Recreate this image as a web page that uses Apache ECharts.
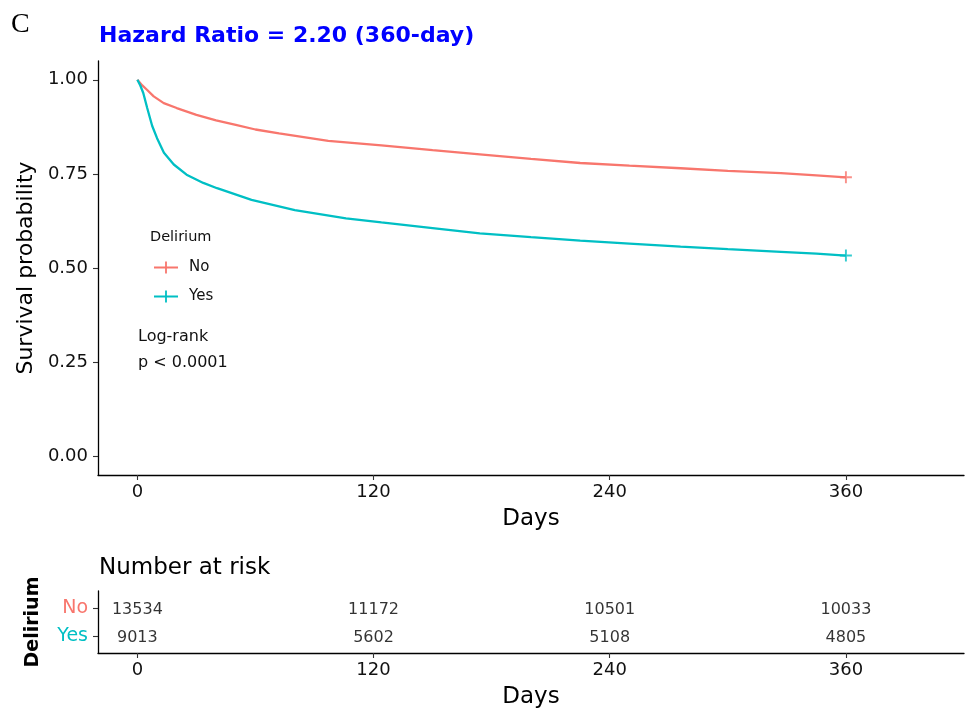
<!DOCTYPE html>
<html>
<head>
<meta charset="utf-8">
<script src="https://cdn.jsdelivr.net/npm/echarts@6/dist/echarts.min.js"></script>
<style>
html,body{margin:0;padding:0;background:#fff;}
#chart{width:967px;height:716px;}
</style>
</head>
<body>
<div id="chart"></div>
<script>
// ---- data ----
const groups = ['No', 'Yes'];
const groupColors = ['#F8766D', '#00BFC4'];

const timeNo = [0, 2.5, 5, 8.3, 13.4, 20, 30, 40, 50, 60, 72, 97, 124, 150, 174, 200, 225, 250, 276, 300, 327, 345, 360];
const survNo = [1.000, 0.985, 0.973, 0.956, 0.938, 0.925, 0.907, 0.892, 0.880, 0.868, 0.858, 0.838, 0.826, 0.813, 0.802, 0.790, 0.779, 0.772, 0.765, 0.758, 0.752, 0.746, 0.741];

const timeYes = [0, 1.5, 3, 5, 7.5, 10, 13.5, 18.5, 25, 33.5, 40.5, 58, 80, 106, 124, 150, 174, 200, 225, 250, 276, 300, 327, 345, 360];
const survYes = [1.000, 0.985, 0.965, 0.925, 0.878, 0.845, 0.806, 0.775, 0.748, 0.726, 0.712, 0.681, 0.654, 0.632, 0.621, 0.606, 0.592, 0.582, 0.573, 0.565, 0.557, 0.550, 0.543, 0.538, 0.533];

const xTicks = [0, 120, 240, 360];
const yTicks = [0, 0.25, 0.5, 0.75, 1];

const riskTimes = [0, 120, 240, 360];
const riskNo = [13534, 11172, 10501, 10033];
const riskYes = [9013, 5602, 5108, 4805];

const titleText = 'Hazard Ratio = 2.20 (360-day)';
const pText = ['Log-rank', 'p < 0.0001'];

// ---- chart ----
const FONT = '"DejaVu Sans", sans-serif';
const TXT = '#111';
const chart = echarts.init(document.getElementById('chart'), null, {renderer: 'canvas'});

const zip = (a, b) => a.map((v, i) => [v, b[i]]);
const survTimes = [timeNo, timeYes];
const survVals = [survNo, survYes];
const riskVals = [riskNo, riskYes];

const plusPath = 'path://M4.2,0h1.6v10h-1.6z M0,4.2h10v1.6h-10z';
const legendIcon = 'path://M0,5.1h24v1.8h-24z M11.1,0h1.8v12h-1.8z';

const axisLine = {show: true, onZero: false, lineStyle: {color: '#000', width: 1.3}};
const axisTick = {show: true, length: 5, lineStyle: {color: '#333', width: 1.1}};

const series = [];
groups.forEach((g, i) => {
  series.push({
    name: g, type: 'line', xAxisIndex: 0, yAxisIndex: 0,
    data: zip(survTimes[i], survVals[i]),
    showSymbol: false, symbol: 'none',
    lineStyle: {color: groupColors[i], width: 2.3},
    itemStyle: {color: groupColors[i]},
    z: 3
  });
});
groups.forEach((g, i) => {
  const t = survTimes[i], s = survVals[i];
  series.push({
    name: g + ' censor', type: 'scatter', xAxisIndex: 0, yAxisIndex: 0,
    data: [[t[t.length - 1], s[s.length - 1]]],
    symbol: plusPath, symbolSize: 12,
    itemStyle: {color: groupColors[i]}, silent: true, z: 4
  });
});
groups.forEach((g, i) => {
  const row = groups.length - i;
  series.push({
    name: g + ' risk', type: 'scatter', xAxisIndex: 1, yAxisIndex: 1,
    data: riskTimes.map((t, k) => [t, row, riskVals[i][k]]),
    symbolSize: 1, itemStyle: {color: 'rgba(0,0,0,0)'},
    label: {show: true, position: 'inside', formatter: p => String(p.value[2]),
      fontFamily: FONT, fontSize: 16, color: '#000', offset: [0, 2]},
    silent: true
  });
});

const rich = {};
groups.forEach((g, i) => { rich['g' + i] = {color: groupColors[i], fontSize: 19, fontFamily: FONT}; });

const option = {
  animation: false,
  backgroundColor: '#fff',
  textStyle: {fontFamily: FONT},
  grid: [
    {left: 98, top: 61, width: 866, height: 414},
    {left: 98, top: 591, width: 866, height: 62}
  ],
  xAxis: [
    {
      type: 'value', gridIndex: 0, min: -20, max: 420,
      axisLine, axisTick: Object.assign({customValues: xTicks}, axisTick),
      axisLabel: {customValues: xTicks, fontSize: 18, color: TXT, fontFamily: FONT, margin: 8},
      splitLine: {show: false},
      name: 'Days', nameLocation: 'middle', nameGap: 33,
      nameTextStyle: {fontSize: 23, color: '#000', fontFamily: FONT}
    },
    {
      type: 'value', gridIndex: 1, min: -20, max: 420,
      axisLine, axisTick: Object.assign({customValues: xTicks}, axisTick),
      axisLabel: {customValues: xTicks, fontSize: 18, color: TXT, fontFamily: FONT, margin: 8},
      splitLine: {show: false},
      name: 'Days', nameLocation: 'middle', nameGap: 33,
      nameTextStyle: {fontSize: 23, color: '#000', fontFamily: FONT}
    }
  ],
  yAxis: [
    {
      type: 'value', gridIndex: 0, min: -0.05, max: 1.05,
      axisLine, axisTick: Object.assign({customValues: yTicks}, axisTick),
      axisLabel: {customValues: yTicks, formatter: v => Number(v).toFixed(2),
        fontSize: 18, color: TXT, fontFamily: FONT, margin: 10},
      splitLine: {show: false},
      name: 'Survival probability', nameLocation: 'middle', nameGap: 55, nameRotate: 90,
      nameTextStyle: {fontSize: 22, color: '#000', fontFamily: FONT}
    },
    {
      type: 'value', gridIndex: 1, min: 0.4, max: 2.6,
      axisLine, axisTick: Object.assign({customValues: [1, 2]}, axisTick),
      axisLabel: {customValues: [1, 2], margin: 10,
        formatter: v => { const idx = groups.length - Math.round(v); return '{g' + idx + '|' + groups[idx] + '}'; },
        rich: rich},
      splitLine: {show: false},
      name: 'Delirium', nameLocation: 'middle', nameGap: 55, nameRotate: 90,
      nameTextStyle: {fontSize: 19, fontWeight: 'bold', color: '#000', fontFamily: FONT}
    }
  ],
  legend: {
    orient: 'vertical', left: 149, top: 255,
    data: groups, icon: legendIcon, itemWidth: 24, itemHeight: 12, itemGap: 14,
    textStyle: {fontSize: 15, fontFamily: FONT, color: TXT, padding: [0, 0, 0, 6]},
    selectedMode: false
  },
  graphic: [
    {type: 'text', left: 11, top: 11, style: {text: 'C', font: '28px "Liberation Serif", serif', fill: '#000'}},
    {type: 'text', x: 99, y: 36, style: {text: titleText, font: 'bold 22px "DejaVu Sans", sans-serif', fill: '#0000FF', verticalAlign: 'middle'}},
    {type: 'text', x: 150, y: 237, style: {text: 'Delirium', font: '14.5px "DejaVu Sans", sans-serif', fill: TXT, verticalAlign: 'middle'}},
    {type: 'text', x: 138, y: 337, style: {text: pText[0], font: '16px "DejaVu Sans", sans-serif', fill: TXT, verticalAlign: 'middle'}},
    {type: 'text', x: 138, y: 363, style: {text: pText[1], font: '16px "DejaVu Sans", sans-serif', fill: TXT, verticalAlign: 'middle'}},
    {type: 'text', x: 99, y: 568, style: {text: 'Number at risk', font: '23px "DejaVu Sans", sans-serif', fill: '#000', verticalAlign: 'middle'}}
  ],
  series: series
};
chart.setOption(option);
</script>
</body>
</html>
